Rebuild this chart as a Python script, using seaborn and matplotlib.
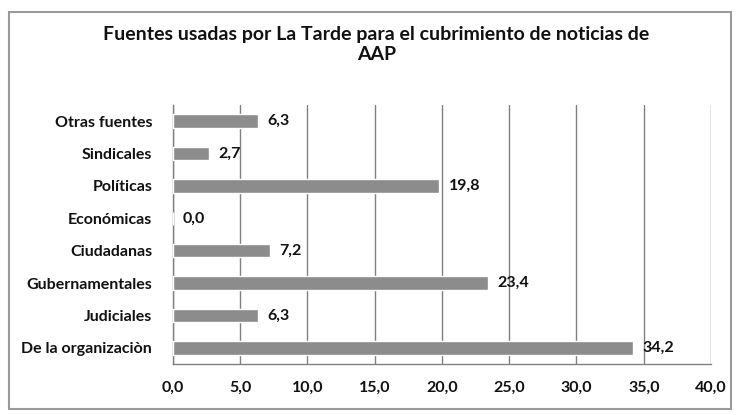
import matplotlib
matplotlib.use("Agg")
import matplotlib.pyplot as plt
import seaborn as sns
import pandas as pd
from matplotlib.patches import Rectangle
from matplotlib.ticker import MultipleLocator, FixedLocator

# datos
categorias = ["Otras fuentes", "Sindicales", "Políticas", "Económicas",
              "Ciudadanas", "Gubernamentales", "Judiciales", "De la organizaciòn"]
valores = [6.3, 2.7, 19.8, 0.0, 7.2, 23.4, 6.3, 34.2]
ticks_x = [0, 5, 10, 15, 20, 25, 30, 35, 40]

df = pd.DataFrame({"fuente": categorias, "valor": valores})

sns.set_theme(style="white")
plt.rcParams["font.family"] = ["Lato", "DejaVu Sans"]
plt.rcParams["font.weight"] = "bold"

fig = plt.figure(figsize=(7.38, 4.15), dpi=100)
ax = fig.add_axes([0.2344, 0.1229, 0.729, 0.624])

sns.barplot(data=df, x="valor", y="fuente", orient="h", color="#8c8c8c",
            width=0.42, saturation=1, ax=ax, zorder=3)

ax.set_xlim(0, 40)
ax.set_ylim(7.5, -0.5)
ax.xaxis.set_major_locator(FixedLocator(ticks_x))
ax.set_xticklabels([f"{t:.1f}".replace(".", ",") for t in ticks_x],
                   fontsize=11.5, fontweight="bold", color="#111111")
ax.grid(axis="x", color="#808080", linewidth=1.0, zorder=0)
ax.set_axisbelow(True)
ax.set_xlabel("")
ax.set_ylabel("")

ax.tick_params(axis="y", which="major", length=0, pad=15)
ax.yaxis.set_minor_locator(MultipleLocator(1, offset=0.5))
ax.tick_params(axis="y", which="minor", length=4, direction="out", color="#808080", width=1)
ax.tick_params(axis="x", which="major", length=4, direction="out", color="#808080", width=1, pad=8)
for lbl in ax.get_yticklabels():
    lbl.set_fontsize(11.5)
    lbl.set_fontweight("bold")
    lbl.set_color("#111111")

for s in ["top", "right"]:
    ax.spines[s].set_visible(False)
for s in ["left", "bottom"]:
    ax.spines[s].set_color("#808080")
    ax.spines[s].set_linewidth(1)

for i, v in enumerate(valores):
    ax.text(v + 0.7, i, f"{v:.1f}".replace(".", ","), va="center", ha="left",
            fontsize=11.5, fontweight="bold", color="#111111", zorder=4)

fig.suptitle("Fuentes usadas por La Tarde para el cubrimiento de noticias de\nAAP",
             x=0.51, y=0.938, fontsize=14, fontweight="bold", color="#111111",
             linespacing=1.2)

fig.patches.append(Rectangle((0.012, 0.015), 0.978, 0.955, transform=fig.transFigure,
                             fill=False, edgecolor="#9a9a9a", linewidth=1.5))

fig.savefig("out.png", dpi=100)
plt.close(fig)
